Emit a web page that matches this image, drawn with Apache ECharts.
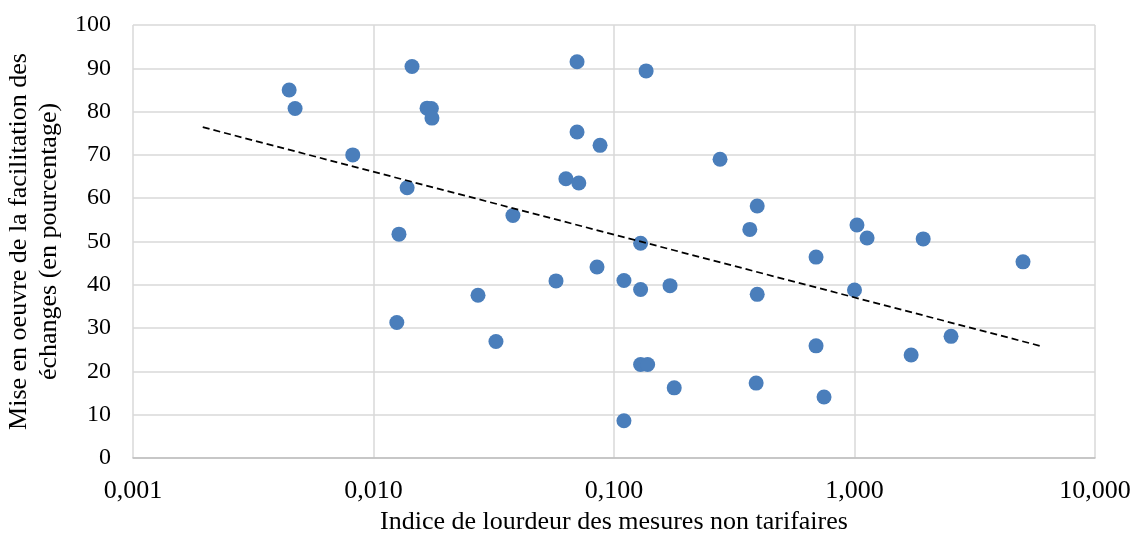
<!DOCTYPE html>
<html>
<head>
<meta charset="utf-8">
<script src="https://cdn.jsdelivr.net/npm/echarts@6/dist/echarts.min.js"></script>
<style>
  html,body{margin:0;padding:0;background:#fff;}
  #chart{width:1131px;height:535px;}
</style>
</head>
<body>
<div id="chart"></div>
<script>
/* Nuage de points : lourdeur des MNT vs facilitation des échanges */
const INDICE = [0.00446,0.00472,0.0082,0.01446,0.0167,0.0174,0.0175,0.0138,0.01276,0.0125,
  0.038,0.0272,0.0323,0.0702,0.0702,0.0631,0.0714,0.0875,0.0574,0.085,
  0.110,0.110,0.136,0.129,0.129,0.129,0.138,0.171,0.178,0.276,
  0.394,0.367,0.394,0.39,0.692,0.692,0.747,1.024,1.0,1.128,
  1.72,1.93,2.52,5.02];
const FACIL = [85,80.7,70,90.4,80.8,80.7,78.5,62.4,51.7,31.3,
  56,37.6,26.9,91.5,75.3,64.5,63.5,72.2,40.9,44.1,
  41,8.6,89.4,49.6,38.9,21.6,21.6,39.8,16.2,69,
  58.2,52.8,37.8,17.3,46.4,25.9,14.1,53.8,38.8,50.8,
  23.8,50.6,28.1,45.3];
const TREND_X = [0.00195, 5.9];
const TREND_Y = [76.4, 25.9];

const X_NAME = "Indice de lourdeur des mesures non tarifaires";
const Y_NAME = "Mise en oeuvre de la facilitation des\néchanges (en pourcentage)";

const FONT = "'Liberation Serif','Times New Roman',serif";
const fmtFr = v => Number(v).toFixed(3).replace(".", ",");

const chart = echarts.init(document.getElementById("chart"), null, {renderer:"canvas"});
chart.setOption({
  animation:false,
  textStyle:{fontFamily:FONT, color:"#000"},
  grid:{left:133, right:36, top:25, bottom:77, containLabel:false, outerBoundsMode:"none"},
  xAxis:{
    type:"log", logBase:10, min:0.001, max:10,
    name:X_NAME, nameLocation:"middle", nameGap:40,
    nameTextStyle:{fontFamily:FONT, fontSize:26, color:"#000"},
    axisLine:{show:true, lineStyle:{color:"#bfbfbf", width:1.5}},
    axisTick:{show:false},
    axisLabel:{fontFamily:FONT, fontSize:26, color:"#000", margin:20, formatter:fmtFr},
    splitLine:{show:true, lineStyle:{color:"#d9d9d9", width:1.5}},
    minorSplitLine:{show:false}
  },
  yAxis:{
    type:"value", min:0, max:100, interval:10,
    name:Y_NAME, nameLocation:"middle", nameRotate:90, nameGap:63,
    nameTextStyle:{fontFamily:FONT, fontSize:26, color:"#000", lineHeight:30},
    axisLine:{show:false},
    axisTick:{show:false},
    axisLabel:{fontFamily:FONT, fontSize:24, color:"#000", margin:22},
    splitLine:{show:true, lineStyle:{color:"#d9d9d9", width:1.5}}
  },
  series:[
    {
      type:"scatter", name:"pays",
      data:INDICE.map((x,i)=>[x, FACIL[i]]),
      symbol:"circle", symbolSize:15,
      itemStyle:{color:"#4a7ebb", opacity:1},
      z:3
    },
    {
      type:"line", name:"tendance",
      data:TREND_X.map((x,i)=>[x, TREND_Y[i]]),
      symbol:"none",
      lineStyle:{color:"#000", width:1.75, type:[7,4]},
      z:4
    }
  ]
});
</script>
</body>
</html>
